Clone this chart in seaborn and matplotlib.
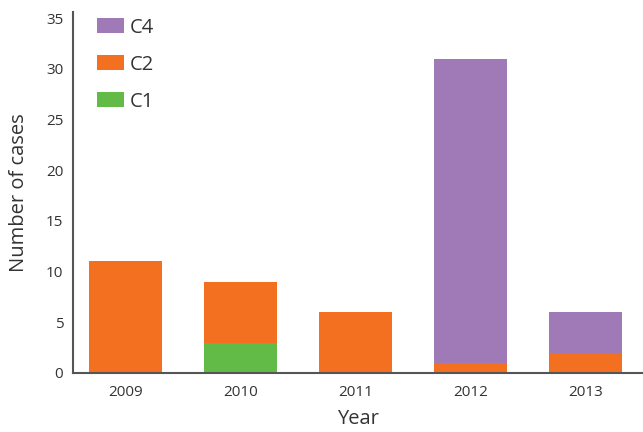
import matplotlib
matplotlib.use("Agg")
from matplotlib import pyplot as plt
import seaborn as sns
import pandas as pd
import numpy as np

years = ["2009", "2010", "2011", "2012", "2013"]
c1 = [0, 3, 0, 0, 0]
c2 = [11, 6, 6, 1, 2]
c4 = [0, 0, 0, 30, 4]

colors = {"C4": "#A07AB6", "C2": "#F37021", "C1": "#62BB46"}

sns.set_theme(style="white")
plt.rcParams["font.family"] = ["Open Sans", "DejaVu Sans"]

df = pd.DataFrame({"Year": years, "C1": c1, "C2": c2, "C4": c4})
df["t_c1"] = df["C1"]
df["t_c2"] = df["C1"] + df["C2"]
df["t_c4"] = df["C1"] + df["C2"] + df["C4"]

fig = plt.figure(figsize=(6.43, 4.32), dpi=100)
ax = fig.add_axes([0.1135, 0.1366, 0.8865, 0.8356])

# stacked by overlaying cumulative totals
for col, lab in [("t_c4", "C4"), ("t_c2", "C2"), ("t_c1", "C1")]:
    sns.barplot(data=df, x="Year", y=col, color=colors[lab], width=0.635,
                saturation=1, label=lab, linewidth=0, ax=ax)

ax.set_ylim(0, 35.6)
ax.set_xlim(-0.46, 4.5)
ax.set_yticks(range(0, 36, 5))
ax.tick_params(axis="both", length=0, labelsize=11, colors="#333333")
ax.tick_params(axis="x", pad=9)
ax.tick_params(axis="y", pad=7)
ax.set_xlabel("Year", fontsize=14.5, color="#333333", labelpad=6)
ax.set_ylabel("Number of cases", fontsize=14.5, color="#333333", labelpad=12)

sns.despine(ax=ax)
for s in ["left", "bottom"]:
    ax.spines[s].set_color("#555555")
    ax.spines[s].set_linewidth(1.5)

ax.legend(loc="upper left", bbox_to_anchor=(0.01, 1.035), frameon=False,
          fontsize=14.5, handlelength=1.35, handleheight=0.8, labelspacing=0.85,
          handletextpad=0.3, labelcolor="#333333")

fig.savefig("out.png", dpi=100)
